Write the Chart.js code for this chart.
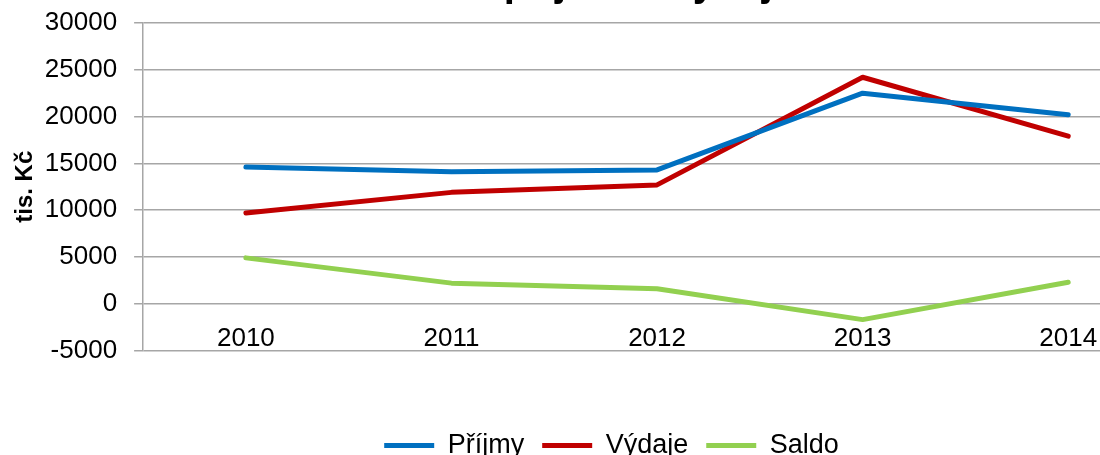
<!DOCTYPE html>
<html>
<head>
<meta charset="utf-8">
<script src="https://cdn.jsdelivr.net/npm/chart.js"></script>
<style>
  html, body { margin: 0; padding: 0; background: #fff; overflow: hidden; }
  #wrap { position: relative; width: 1100px; height: 455px; overflow: hidden; }
  #chart { position: absolute; left: 0; top: -60px; }
</style>
</head>
<body>
<div id="wrap"><canvas id="chart" width="1220" height="529"></canvas></div>
<script>
/* data */

const years = ["2010", "2011", "2012", "2013", "2014"];

const prijmy = [14600, 14100, 14300, 22500, 20200];
const vydaje = [9700, 11900, 12700, 24200, 17900];
const saldo  = [4900, 2200, 1600, -1700, 2300];

const yTicks = [-5000, 0, 5000, 10000, 15000, 20000, 25000, 30000];


/* chart */

Chart.defaults.font.family = '"Liberation Sans", Arial, sans-serif';
Chart.defaults.color = "#000";

function series(label, values, color)
{
    return {
        label: label,
        data: values,
        borderColor: color,
        backgroundColor: color,
        borderWidth: 5,
        borderCapStyle: "round",
        borderJoinStyle: "round",
        tension: 0,
        fill: false,
        pointRadius: 0,
        pointHoverRadius: 0,
        pointStyle: "line",
        pointBorderColor: color,
        pointBackgroundColor: color,
        pointBorderWidth: 5
    };
}

// the legend sits a bit right of the plot's centre in the original
const legendShift = {
    id: "legendShift",
    afterLayout(chart) {
        chart.legend.left += 21;
        chart.legend.right += 21;
    }
};

new Chart(document.getElementById("chart"), {
    type: "line",
    data: {
        labels: years,
        datasets: [
            series("Příjmy", prijmy, "#0070C0"),
            series("Výdaje", vydaje, "#C00000"),
            series("Saldo", saldo, "#92D050")
        ]
    },
    options: {
        responsive: false,
        animation: false,
        devicePixelRatio: 1,
        layout: {
            padding: { left: 10, right: 49, top: 0, bottom: 0 }
        },
        plugins: {
            title: {
                display: true,
                text: "Saldo příjmů a výdajů",
                font: { size: 40, weight: "bold" },
                color: "#000",
                padding: { top: 21, bottom: 14 }
            },
            legend: {
                position: "bottom",
                title: {
                    display: true,
                    text: "",
                    font: { size: 10 },
                    padding: { top: 27, bottom: 24.5 }
                },
                labels: {
                    usePointStyle: true,
                    pointStyle: "line",
                    pointStyleWidth: 50,
                    padding: 18,
                    font: { size: 27 },
                    color: "#000"
                }
            },
            tooltip: { enabled: false }
        },
        scales: {
            x: {
                type: "category",
                offset: true,
                position: { y: 0 },
                grid: { display: false, drawTicks: false },
                border: { display: false },
                ticks: {
                    font: { size: 26 },
                    color: "#000",
                    padding: 20,
                    maxRotation: 0,
                    autoSkip: false
                }
            },
            y: {
                min: yTicks[0],
                max: yTicks[yTicks.length - 1],
                afterBuildTicks: axis => {
                    axis.ticks = yTicks.map(v => ({ value: v }));
                },
                grid: {
                    color: "#a6a6a6",
                    lineWidth: 1.5,
                    drawTicks: true,
                    tickLength: 9
                },
                border: { color: "#a6a6a6", width: 1.5 },
                ticks: {
                    font: { size: 26 },
                    color: "#000",
                    padding: 17,
                    callback: v => String(v)
                },
                title: {
                    display: true,
                    text: "tis. Kč",
                    font: { size: 24, weight: "bold" },
                    color: "#000",
                    padding: { top: 1, bottom: -12 }
                }
            }
        }
    },
    plugins: [legendShift]
});
</script>
</body>
</html>
